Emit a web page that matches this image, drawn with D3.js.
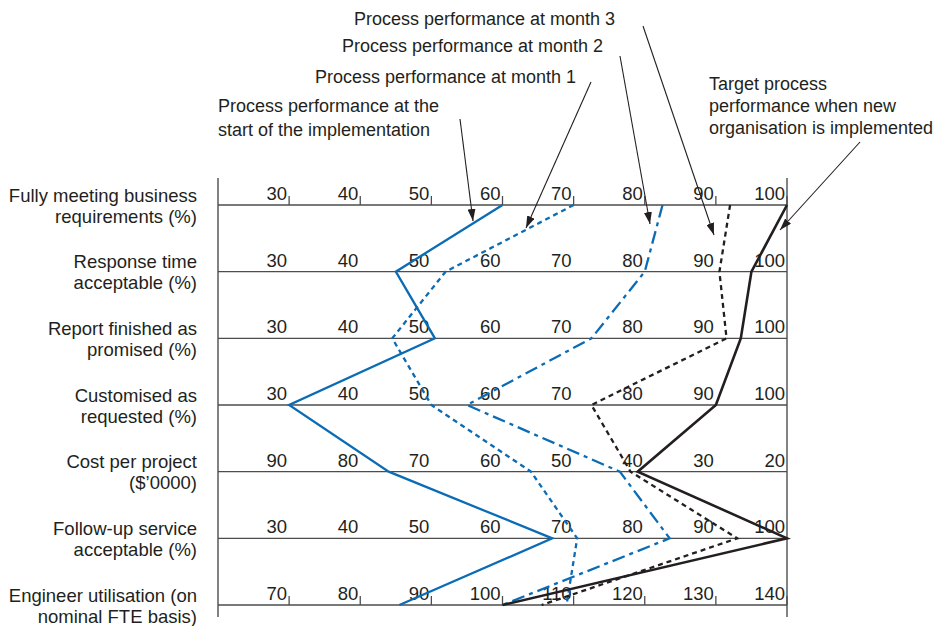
<!DOCTYPE html>
<html><head><meta charset="utf-8">
<script src="https://cdn.jsdelivr.net/npm/d3@7"></script>
<style>
html,body{margin:0;padding:0;background:#fff;}
svg text{font-family:"Liberation Sans",Arial,Helvetica,sans-serif;fill:#231f20;}
</style></head>
<body><svg id="c" width="943" height="626"></svg>
<script>
// ---- data ----
const rowLabels = [
  ["Fully meeting business","requirements (%)"],
  ["Response time","acceptable (%)"],
  ["Report finished as","promised (%)"],
  ["Customised as","requested (%)"],
  ["Cost per project","($’0000)"],
  ["Follow-up service","acceptable (%)"],
  ["Engineer utilisation (on","nominal FTE basis)"]
];
const pctTicks  = [30,40,50,60,70,80,90,100];
const costTicks = [90,80,70,60,50,40,30,20];
const engTicks  = [70,80,90,100,110,120,130,140];
const pctDomain  = [20,100];
const costDomain = [100,20];
const engDomain  = [60,140];
const rowTicks   = [pctTicks,pctTicks,pctTicks,pctTicks,costTicks,pctTicks,engTicks];
const rowDomains = [pctDomain,pctDomain,pctDomain,pctDomain,costDomain,pctDomain,engDomain];

const startVals  = [60, 45, 50.5, 30, 76, 67, 85.5];
const month1Vals = [70, 52, 44.5, 50, 56, 70.5, 109];
const month2Vals = [82.5, 80, 72.5, 55, 43.5, 83.5, 100];
const month3Vals = [92, 90.5, 91.5, 72.5, 42, 93, 105.5];
const targetVals = [100, 95, 93.5, 90, 41, 100, 100];

// ---- layout ----
const FS = 18.5, FSA = 18;
const svg = d3.select("#c");
const X0 = 218, X1 = 787;
const y = d3.scaleLinear().domain([0,6]).range([205,605]);
const xs = rowDomains.map(d => d3.scaleLinear().domain(d).range([X0,X1]));
const ink = "#231f20", blue = "#0b6cb5", axisCol = "#4d4d4d";

// frame verticals
svg.append("line").attr("x1",X0).attr("x2",X0).attr("y1",178).attr("y2",617)
  .attr("stroke",axisCol).attr("stroke-width",1.4);
svg.append("line").attr("x1",X1).attr("x2",X1).attr("y1",178).attr("y2",617)
  .attr("stroke",axisCol).attr("stroke-width",1.4);

rowLabels.forEach((lab,i) => {
  const yy = y(i);
  const g = svg.append("g");
  g.append("line").attr("x1",X0).attr("x2",X1).attr("y1",yy).attr("y2",yy)
    .attr("stroke",axisCol).attr("stroke-width",1.4);
  const sc = xs[i];
  rowTicks[i].forEach(t => {
    const tx = sc(t);
    g.append("text").attr("x",tx-2).attr("y",yy-5).attr("text-anchor","end")
      .attr("font-size",FS).text(t);
    if (i===0 || i===6) {
      g.append("line").attr("x1",tx).attr("x2",tx).attr("y1",yy).attr("y2",yy-9)
        .attr("stroke",axisCol).attr("stroke-width",1.3);
    }
  });
  const t = svg.append("text").attr("x",197).attr("y",yy-3.5).attr("text-anchor","end").attr("font-size",FS);
  t.append("tspan").attr("x",197).attr("dy",0).text(lab[0]);
  t.append("tspan").attr("x",197).attr("dy",21).text(lab[1]);
});

// ---- series lines ----
const series = [
  {vals:startVals,  color:blue, w:2.3, dash:null},
  {vals:month1Vals, color:blue, w:2.3, dash:"5,4"},
  {vals:month2Vals, color:blue, w:2.3, dash:"13,5,4,5"},
  {vals:month3Vals, color:ink,  w:2.3, dash:"5,4"},
  {vals:targetVals, color:ink,  w:2.6, dash:null}
];
const line = d3.line().x((d,i)=>xs[i](d)).y((d,i)=>y(i));
series.forEach(s => {
  svg.append("path").attr("d",line(s.vals)).attr("fill","none")
    .attr("stroke",s.color).attr("stroke-width",s.w)
    .attr("stroke-dasharray",s.dash).attr("stroke-linejoin","miter");
});

// ---- annotations ----
svg.append("defs").append("marker").attr("id","arr").attr("viewBox","0 0 12 8")
  .attr("refX",12).attr("refY",4).attr("markerWidth",12).attr("markerHeight",8)
  .attr("markerUnits","userSpaceOnUse").attr("orient","auto")
  .append("path").attr("d","M0,0 L12,4 L0,8 Z").attr("fill",ink);

const annots = [
  {lines:["Process performance at month 3"], x:615, y:24.5, dy:0, anchor:"end", from:[643,26], to:[714,235]},
  {lines:["Process performance at month 2"], x:603, y:51.5, dy:0, anchor:"end", from:[620,56], to:[650,224]},
  {lines:["Process performance at month 1"], x:576, y:82.5, dy:0, anchor:"end", from:[591,82], to:[526,228]},
  {lines:["Process performance at the","start of the implementation"], x:218, y:111.5, dy:24, anchor:"start", from:[460,119], to:[473,221]},
  {lines:["Target process","performance when new","organisation is implemented"], x:709, y:89.5, dy:22, anchor:"start", from:[860,142], to:[780,230]}
];
annots.forEach(a => {
  const t = svg.append("text").attr("x",a.x).attr("y",a.y).attr("text-anchor",a.anchor).attr("font-size",FSA);
  a.lines.forEach((l,k) => t.append("tspan").attr("x",a.x).attr("dy",k?a.dy:0).text(l));
  svg.append("line").attr("x1",a.from[0]).attr("y1",a.from[1]).attr("x2",a.to[0]).attr("y2",a.to[1])
    .attr("stroke",ink).attr("stroke-width",1.1).attr("marker-end","url(#arr)");
});
</script></body></html>
